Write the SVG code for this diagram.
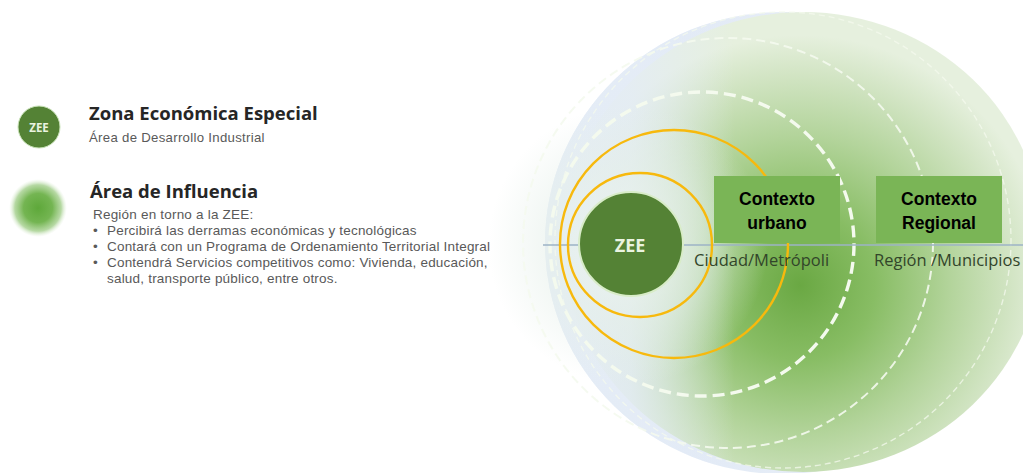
<svg xmlns="http://www.w3.org/2000/svg" width="1023" height="473" viewBox="0 0 1023 473">
<style>
.h{font-family:"Open Sans","Noto Sans",sans-serif;font-weight:700;font-size:18.5px;fill:#262626}
.sub{font-family:"Liberation Sans",Arial,sans-serif;font-size:13.2px;letter-spacing:0.3px;fill:#595959}
.body{font-family:"Liberation Sans",Arial,sans-serif;font-size:13.5px;letter-spacing:0.2px;fill:#595959}
.box{fill:#7ab556}
.boxt{font-family:"Liberation Sans",Arial,sans-serif;font-weight:700;font-size:17.5px;fill:#000;text-anchor:middle}
.lab{font-family:"Open Sans","Noto Sans",sans-serif;font-size:16.5px;fill:#32452a}
.zee{font-family:"Open Sans","Noto Sans",sans-serif;font-weight:700;fill:#eaf4e0;text-anchor:middle}
.dash{fill:none;stroke:#f4faee}
.yel{fill:none;stroke:#f7b90d;stroke-width:2.4}
</style>
<defs>
<linearGradient id="halo" x1="0" y1="0" x2="1" y2="0">
<stop offset="0" stop-color="#e9eff8"/>
<stop offset="0.3" stop-color="#e2eaf6"/>
<stop offset="1" stop-color="#eef3f8"/>
</linearGradient>
<radialGradient id="green" gradientUnits="userSpaceOnUse" cx="800" cy="285" r="250">
<stop offset="0" stop-color="#6aa843"/>
<stop offset="0.3" stop-color="#88bd64"/>
<stop offset="0.6" stop-color="#b3d49b"/>
<stop offset="0.85" stop-color="#d3e5c5"/>
<stop offset="1" stop-color="#e6f0de"/>
</radialGradient>
<radialGradient id="pale" gradientUnits="userSpaceOnUse" cx="628" cy="245" r="140">
<stop offset="0" stop-color="#eef5f2" stop-opacity="0.9"/>
<stop offset="0.55" stop-color="#e6f0ea" stop-opacity="0.6"/>
<stop offset="1" stop-color="#e6f0ea" stop-opacity="0"/>
</radialGradient>
<linearGradient id="leftfade" x1="0" y1="0" x2="1" y2="0">
<stop offset="0" stop-color="#e4ecf6" stop-opacity="1"/>
<stop offset="0.18" stop-color="#e4ecf6" stop-opacity="0.85"/>
<stop offset="0.4" stop-color="#e4ecf6" stop-opacity="0"/>
</linearGradient>
<radialGradient id="fuzzy" cx="0.5" cy="0.5" r="0.5">
<stop offset="0" stop-color="#5ea83a"/>
<stop offset="0.5" stop-color="#74b552"/>
<stop offset="0.8" stop-color="#a9d293" stop-opacity="0.85"/>
<stop offset="1" stop-color="#e0efd8" stop-opacity="0"/>
</radialGradient>
</defs>
<rect width="1023" height="473" fill="#ffffff"/>

<g id="legend-zee">
<circle cx="39" cy="127" r="21" fill="#548235" stroke="#c9e3b8" stroke-width="1"/>
<text class="zee" x="39" y="131.5" font-size="11.5">ZEE</text>
<text class="h" x="89" y="120">Zona Económica  Especial</text>
<text class="sub" x="89" y="142">Área de Desarrollo Industrial</text>
</g>

<g id="legend-influencia">
<circle cx="38" cy="208" r="29" fill="url(#fuzzy)"/>
<text class="h" x="90" y="198">Área de Influencia</text>
<text class="body" x="93" y="219">Región en torno a la ZEE:</text>
<text class="body" x="93" y="235">•</text>
<text class="body" x="107" y="235">Percibirá las derramas económicas y tecnológicas</text>
<text class="body" x="93" y="251">•</text>
<text class="body" x="107" y="251">Contará con un Programa de Ordenamiento Territorial Integral</text>
<text class="body" x="93" y="267">•</text>
<text class="body" x="107" y="267">Contendrá Servicios competitivos como: Vivienda, educación,</text>
<text class="body" x="107" y="283">salud, transporte público, entre otros.</text>
</g>

<g id="influence-disc">
<ellipse cx="782" cy="243" rx="237" ry="231" fill="url(#halo)"/>
<ellipse cx="803" cy="242" rx="240" ry="230" fill="url(#green)"/>
<ellipse cx="782" cy="243" rx="237" ry="231" fill="url(#leftfade)"/>
<circle cx="628" cy="245" r="140" fill="url(#pale)"/>
<circle class="dash" cx="783" cy="240" r="228" stroke-width="1.4" stroke-dasharray="6 4" opacity="0.75"/>
<circle class="dash" cx="728" cy="243" r="205" stroke-width="2" stroke-dasharray="9 5" opacity="0.9"/>
<circle class="dash" cx="702" cy="244" r="152" stroke-width="3.4" stroke-dasharray="12 6"/>
</g>

<g id="connectors">
<line x1="543" y1="245" x2="1023" y2="245" stroke="#9cb3c6" stroke-width="1.5"/>
</g>

<g id="yellow-rings">
<circle class="yel" cx="674" cy="244" r="114"/>
<circle class="yel" cx="640" cy="245" r="72"/>
</g>

<g id="node-zee">
<circle cx="631" cy="244" r="52" fill="#548235" stroke="#d8ecc8" stroke-width="2"/>
<text class="zee" x="630" y="252" font-size="18">ZEE</text>
</g>

<g id="node-urbano">
<rect class="box" x="714" y="176" width="126" height="67"/>
<text class="boxt" x="777" y="205">Contexto</text>
<text class="boxt" x="777" y="229">urbano</text>
<text class="lab" x="694" y="266">Ciudad/Metrópoli</text>
</g>

<g id="node-regional">
<rect class="box" x="876" y="176" width="126" height="67"/>
<text class="boxt" x="939" y="205">Contexto</text>
<text class="boxt" x="939" y="229">Regional</text>
<text class="lab" x="874" y="266">Región /Municipios</text>
</g>
</svg>
